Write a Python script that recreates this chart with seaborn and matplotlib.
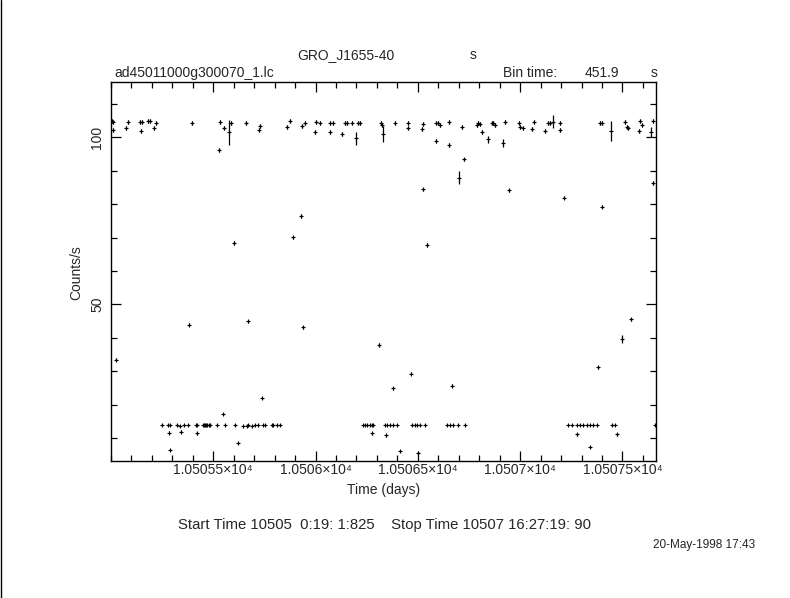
import matplotlib
matplotlib.use('Agg')
import matplotlib.pyplot as plt
from matplotlib.lines import Line2D
from matplotlib.ticker import FixedLocator, FixedFormatter, MultipleLocator
import pandas as pd
import seaborn as sns

# light curve: time (days), rate (counts/s), 1-sigma error
TIME = [10505.006, 10505.008, 10505.010, 10505.023, 10505.072, 10505.085, 10505.142, 10505.145,
        10505.153, 10505.182, 10505.191, 10505.210, 10505.220, 10505.248, 10505.280, 10505.284,
        10505.288, 10505.289, 10505.321, 10505.337, 10505.341, 10505.357, 10505.378, 10505.381,
        10505.394, 10505.415, 10505.419, 10505.422, 10505.448, 10505.453, 10505.459, 10505.466,
        10505.471, 10505.478, 10505.484, 10505.517, 10505.529, 10505.533, 10505.549, 10505.551,
        10505.557, 10505.578, 10505.587, 10505.600, 10505.606, 10505.622, 10505.647, 10505.660,
        10505.663, 10505.670, 10505.672, 10505.688, 10505.704, 10505.720, 10505.721, 10505.728,
        10505.740, 10505.744, 10505.753, 10505.785, 10505.793, 10505.810, 10505.826, 10505.859,
        10505.875, 10505.889, 10505.929, 10505.932, 10505.938, 10505.948, 10505.997, 10506.002,
        10506.020, 10506.070, 10506.072, 10506.084, 10506.128, 10506.144, 10506.152, 10506.179,
        10506.198, 10506.209, 10506.217, 10506.233, 10506.241, 10506.250, 10506.266, 10506.274,
        10506.275, 10506.282, 10506.308, 10506.318, 10506.323, 10506.328, 10506.339, 10506.344,
        10506.348, 10506.364, 10506.377, 10506.380, 10506.388, 10506.396, 10506.413, 10506.450,
        10506.453, 10506.466, 10506.470, 10506.486, 10506.494, 10506.502, 10506.510, 10506.519,
        10506.525, 10506.526, 10506.535, 10506.545, 10506.587, 10506.589, 10506.600, 10506.608,
        10506.641, 10506.653, 10506.654, 10506.657, 10506.665, 10506.673, 10506.698, 10506.702,
        10506.714, 10506.725, 10506.730, 10506.787, 10506.795, 10506.804, 10506.812, 10506.844,
        10506.861, 10506.869, 10506.877, 10506.915, 10506.926, 10506.944, 10506.996, 10506.998,
        10507.012, 10507.056, 10507.067, 10507.121, 10507.137, 10507.146, 10507.162, 10507.195,
        10507.196, 10507.213, 10507.235, 10507.252, 10507.276, 10507.277, 10507.292, 10507.308,
        10507.325, 10507.341, 10507.342, 10507.357, 10507.374, 10507.382, 10507.390, 10507.398,
        10507.401, 10507.442, 10507.447, 10507.463, 10507.472, 10507.499, 10507.512, 10507.521,
        10507.528, 10507.540, 10507.582, 10507.586, 10507.594, 10507.638, 10507.651, 10507.651,
        10507.659]

RATE = [105.0, 104.7, 102.2, 33.5, 102.7, 104.7, 104.7, 102.0,
        104.7, 105.0, 105.0, 102.7, 104.4, 13.9, 13.9, 11.6,
        6.4, 13.9, 13.9, 13.6, 11.9, 13.9, 13.9, 43.9,
        104.4, 13.9, 11.4, 13.9, 13.9, 13.9, 13.9, 13.9,
        13.9, 13.9, 13.9, 13.9, 96.2, 104.7, 17.2, 102.7,
        13.9, 101.5, 104.2, 68.4, 13.9, 8.4, 13.6, 104.4,
        13.6, 44.9, 13.9, 13.6, 13.9, 13.9, 102.2, 103.5,
        22.0, 13.9, 13.9, 13.9, 13.9, 13.9, 13.9, 103.2,
        105.0, 70.1, 76.5, 103.4, 43.1, 104.4, 101.7, 104.7,
        104.4, 104.4, 101.5, 104.4, 101.0, 104.4, 104.4, 104.4,
        99.7, 104.2, 104.2, 13.9, 13.9, 13.9, 13.9, 13.9,
        11.4, 13.9, 37.8, 104.2, 103.7, 100.9, 13.9, 10.8,
        13.9, 13.9, 24.9, 13.9, 104.4, 13.9, 6.2, 102.7,
        104.4, 29.3, 13.9, 13.9, 13.9, 5.4, 13.9, 102.4,
        84.5, 104.0, 13.9, 67.8, 99.0, 104.4, 104.4, 103.7,
        13.9, 104.7, 97.7, 13.9, 25.7, 13.9, 13.9, 88.0,
        103.2, 93.4, 13.9, 103.7, 104.4, 104.0, 101.7, 99.4,
        104.4, 104.4, 103.7, 98.2, 104.7, 84.2, 104.4, 103.2,
        102.7, 102.4, 104.7, 102.0, 104.4, 104.4, 104.7, 104.2,
        102.2, 82.0, 13.9, 13.9, 13.9, 11.1, 13.9, 13.9,
        13.9, 13.9, 7.2, 13.9, 13.9, 31.2, 104.4, 104.4,
        79.3, 102.0, 13.9, 13.9, 11.1, 39.6, 104.7, 103.2,
        102.7, 45.5, 102.0, 105.0, 103.7, 101.6, 105.0, 86.4,
        13.9]

RATE_ERR = [0.6, 0.6, 0.6, 0.4, 0.6, 0.6, 0.6, 0.6,
            0.6, 0.6, 0.6, 0.6, 0.6, 0.4, 0.4, 0.4,
            0.3, 0.4, 0.4, 0.4, 0.4, 0.4, 0.4, 0.5,
            0.6, 0.4, 0.4, 0.4, 0.4, 0.4, 0.4, 0.4,
            0.4, 0.4, 0.4, 0.4, 0.6, 0.6, 0.4, 0.6,
            0.4, 3.7, 0.6, 0.5, 0.4, 0.3, 0.4, 0.6,
            0.4, 0.5, 0.4, 0.4, 0.4, 0.4, 0.6, 0.6,
            0.4, 0.4, 0.4, 0.4, 0.4, 0.4, 0.4, 0.6,
            0.6, 0.5, 0.5, 0.6, 0.5, 0.6, 0.6, 0.6,
            0.6, 0.6, 0.6, 0.6, 0.6, 0.6, 0.6, 0.6,
            2.0, 0.6, 0.6, 0.4, 0.4, 0.4, 0.4, 0.4,
            0.4, 0.4, 0.5, 0.6, 0.6, 2.4, 0.4, 0.4,
            0.4, 0.4, 0.4, 0.4, 0.6, 0.4, 0.3, 0.6,
            0.6, 0.4, 0.4, 0.4, 0.4, 0.3, 0.4, 0.6,
            0.5, 0.6, 0.4, 0.5, 0.6, 0.6, 0.6, 0.6,
            0.4, 0.6, 0.6, 0.4, 0.4, 0.4, 0.4, 1.8,
            0.6, 0.5, 0.4, 0.6, 0.6, 0.6, 0.6, 1.0,
            0.6, 0.6, 0.6, 1.2, 0.6, 0.5, 0.6, 0.6,
            0.6, 0.6, 0.6, 0.6, 0.6, 0.6, 2.0, 0.6,
            0.6, 0.5, 0.4, 0.4, 0.4, 0.4, 0.4, 0.4,
            0.4, 0.4, 0.3, 0.4, 0.4, 0.4, 0.6, 0.6,
            0.5, 3.0, 0.4, 0.4, 0.4, 1.3, 0.6, 0.6,
            0.6, 0.5, 0.6, 0.6, 0.6, 1.6, 0.6, 0.5,
            0.4]

BIN_TIME = 451.9  # seconds
XTICKS = [10505.5, 10506.0, 10506.5, 10507.0, 10507.5]
XTICK_LABELS = ['1.05055×10⁴', '1.0506×10⁴', '1.05065×10⁴', '1.0507×10⁴', '1.05075×10⁴']
YTICKS = [50, 100]
YTICK_LABELS = ['50', '100']

sns.set_style('ticks')
plt.rcParams['font.family'] = ['Liberation Sans', 'DejaVu Sans']
plt.rcParams['font.size'] = 10

df = pd.DataFrame({'time': TIME, 'rate': RATE, 'err': RATE_ERR})

W, H = 790, 598
fig = plt.figure(figsize=(W / 100, H / 100), dpi=100)
ax = fig.add_axes([111 / W, 1 - 460.7 / H, 545 / W, (460.7 - 82) / H])

ax.errorbar(df['time'], df['rate'], yerr=df['err'], xerr=BIN_TIME / 86400 / 2,
            fmt='none', ecolor='black', elinewidth=0.9, capsize=0)
sns.scatterplot(data=df, x='time', y='rate', marker='+', s=8, color='black',
                linewidth=0.8, legend=False, ax=ax)

ax.set_xlim(10505.0, 10507.664)
ax.set_ylim(3.2, 116.6)
ax.xaxis.set_major_locator(FixedLocator(XTICKS))
ax.xaxis.set_major_formatter(FixedFormatter(XTICK_LABELS))
ax.xaxis.set_minor_locator(MultipleLocator(0.1))
ax.yaxis.set_major_locator(FixedLocator(YTICKS))
ax.yaxis.set_major_formatter(FixedFormatter(YTICK_LABELS))
ax.yaxis.set_minor_locator(MultipleLocator(10))
ax.tick_params(which='both', direction='in', top=True, right=True, color='black', width=0.9)
ax.tick_params(which='major', length=7)
ax.tick_params(which='minor', length=4)
ax.tick_params(axis='x', pad=2, labelsize=10)
ax.tick_params(axis='y', pad=5, labelsize=10, labelrotation=90)
for lab in ax.get_yticklabels():
    lab.set_va('center')
ax.set_xlabel('')
ax.set_ylabel('')
for sp in ax.spines.values():
    sp.set_visible(True)
    sp.set_color('black')
    sp.set_linewidth(1.0)

fig.text(297 / W, 1 - 55 / H, 'GRO_J1655-40', ha='left', va='center')
fig.text(470 / W, 1 - 55 / H, 's', ha='left', va='center')
fig.text(114 / W, 1 - 73 / H, 'ad45011000g300070_1.lc', ha='left', va='center')
fig.text(503 / W, 1 - 73 / H, 'Bin time:', ha='left', va='center')
fig.text(585 / W, 1 - 73 / H, '451.9', ha='left', va='center')
fig.text(651 / W, 1 - 73 / H, 's', ha='left', va='center')
fig.text(384 / W, 1 - 490 / H, 'Time (days)', ha='center', va='center')
fig.text(76 / W, 1 - 273 / H, 'Counts/s', rotation=90, ha='center', va='center')
fig.text(178 / W, 1 - 525 / H, 'Start Time 10505  0:19: 1:825    Stop Time 10507 16:27:19: 90',
         ha='left', va='center', fontsize=10.7)
fig.text(755 / W, 1 - 545 / H, '20-May-1998 17:43', ha='right', va='center', fontsize=8.5)

fig.add_artist(Line2D([0.0015, 0.0015], [0, 1], transform=fig.transFigure, color='black', lw=1))

fig.savefig('out.png', dpi=100)
